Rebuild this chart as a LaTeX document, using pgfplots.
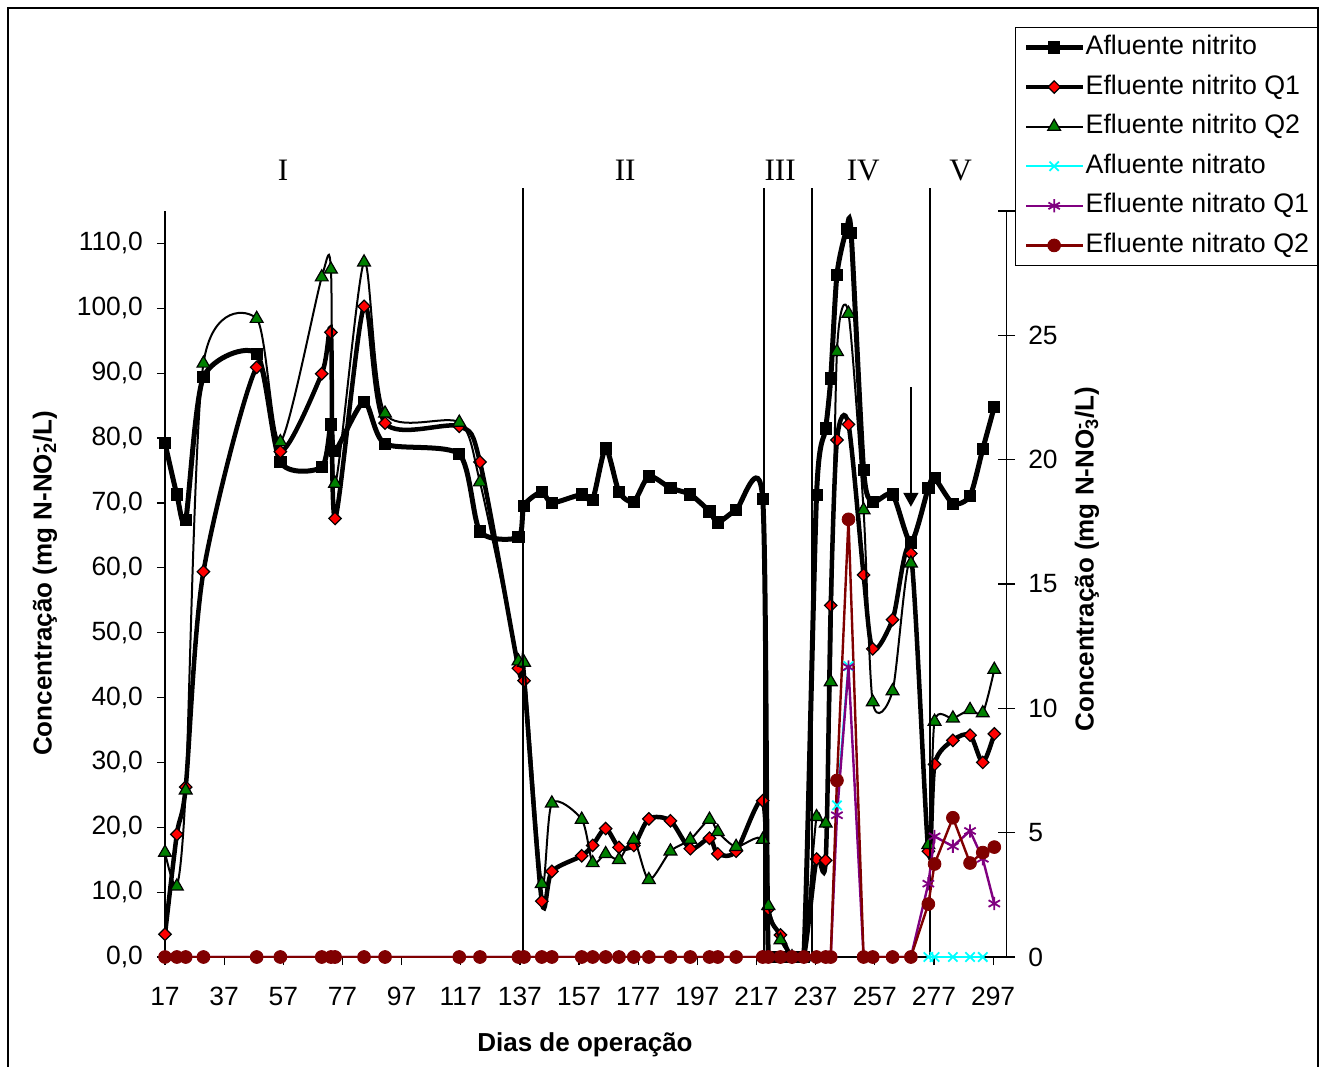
\documentclass[border=0pt]{standalone}
\usepackage{fontspec}
\setmainfont{Liberation Sans}
\newfontfamily\timesf{Liberation Serif}
\usepackage{pgfplots}
\pgfplotsset{compat=1.18}
\usetikzlibrary{arrows.meta}
\definecolor{xgreen}{RGB}{0,128,0}
\definecolor{xpurple}{RGB}{128,0,128}
\definecolor{xdarkred}{RGB}{128,0,0}
\definecolor{xcyan}{RGB}{0,255,255}

\pgfplotsset{
  afstyle/.style={black, line width=2.5pt, smooth, tension=0.42, mark=square*, mark size=2.8pt, mark options={solid, line width=0.4pt, draw=black, fill=black}},
  q1style/.style={black, line width=2.25pt, smooth, tension=0.48, mark=square*, mark size=2.2pt, mark options={solid, rotate=45, line width=0.6pt, draw=black, fill=red}},
  q2style/.style={black, line width=1pt, smooth, tension=0.45, mark=triangle*, mark size=3.7pt, mark options={solid, line width=0.6pt, draw=black, fill=xgreen}},
  n0style/.style={xcyan, line width=1.2pt, mark=x, mark size=3.3pt, mark options={solid, line width=0.9pt}},
  n1style/.style={xpurple, line width=1.2pt, mark=asterisk, mark size=3.3pt, mark options={solid, line width=0.9pt}},
  n2style/.style={xdarkred, line width=1.2pt, mark=*, mark size=3.2pt, mark options={solid, line width=0.4pt, draw=xdarkred, fill=xdarkred}},
  tickfont/.style={font=\fontsize{13.2}{15}\selectfont},
}

\pgfplotstableread{
d v
17 79.2
21 71.3
24 67.4
30 89.4
48 93.0
56 76.3
70 75.5
73.1 82.1
74.5 78.0
84.3 85.6
91.4 79.1
116.5 77.5
123.5 65.6
136.5 64.7
138.4 69.6
144.4 71.7
147.8 70.0
157.9 71.3
161.6 70.5
166 78.4
170.5 71.7
175.5 70.2
180.6 74.1
187.9 72.3
194.6 71.3
201.1 68.7
203.9 67.0
210.1 68.9
219.1 70.6
221 0
225.1 0
229 0
233 0
237.3 71.2
240.4 81.5
242.1 89.2
244.2 105.2
247.5 112.2
249 111.6
253.2 75.1
256.3 70.2
263 71.3
269.2 63.9
275.1 72.3
277.2 73.8
283.4 69.9
289.2 71.1
293.5 78.3
297.4 84.8
}\afnit

\pgfplotstableread{
d v
17 3.5
21 18.9
24 26.2
30 59.4
48 90.9
56 77.9
70 89.9
73.1 96.3
74.5 67.6
84.3 100.3
91.4 82.3
116.5 81.8
123.5 76.3
136.5 44.5
138.4 42.6
144.4 8.6
147.8 13.2
157.9 15.6
161.6 17.2
166 19.8
170.5 16.9
175.5 17.2
180.6 21.3
187.9 21.0
194.6 16.7
201.1 18.3
203.9 15.9
210.1 16.3
219.1 24.1
221 7.4
225.1 3.4
229 0
233 0
237.3 15.1
240.4 14.9
242.1 54.2
244.2 79.7
248.1 82.1
253.2 58.9
256.3 47.5
263 52.0
269.2 62.2
275.1 16.3
277.2 29.7
283.4 33.4
289.2 34.2
293.5 30.0
297.4 34.4
}\qunit

\pgfplotstableread{
d v
17 16.1
21 10.9
24 25.7
30 91.5
48 98.4
56 79.4
70 104.8
73.1 106.0
74.5 73.0
84.3 107.1
91.4 83.8
116.5 82.4
123.5 73.2
136.5 45.6
138.4 45.4
144.4 11.3
147.8 23.7
157.9 21.2
161.6 14.5
166 15.9
170.5 15.0
175.5 18.1
180.6 11.9
187.9 16.3
194.6 18.1
201.1 21.2
203.9 19.3
210.1 17.0
219.1 18.1
221 7.9
225.1 2.6
229 0
233 0
237.3 21.6
240.4 20.6
242.1 42.4
244.2 93.3
248.1 99.2
253.2 68.9
256.3 39.3
263 41.0
269.2 60.7
275.1 17.3
277.2 36.3
283.4 36.8
289.2 38.1
293.5 37.6
297.4 44.3
}\qdnit

\pgfplotstableread{
d a b
17 0 0
21 0 0
24 0 0
30 0 0
48 0 0
56 0 0
70 0 0
73.1 0 0
74.5 0 0
84.3 0 0
91.4 0 0
116.5 0 0
123.5 0 0
136.5 0 0
138.4 0 0
144.4 0 0
147.8 0 0
157.9 0 0
161.6 0 0
166 0 0
170.5 0 0
175.5 0 0
180.6 0 0
187.9 0 0
194.6 0 0
201.1 0 0
203.9 0 0
210.1 0 0
219.1 0 0
221 0 0
225.1 0 0
229 0 0
233 0 0
237.3 0 0
240.4 0 0
242.1 0 0
244.2 5.7 7.1
248.1 11.66 17.6
253.2 0 0
256.3 0 0
263 0 0
269.2 0 0
275.1 2.95 2.13
277.2 4.85 3.74
283.4 4.45 5.6
289.2 5.07 3.78
293.5 3.95 4.2
297.4 2.15 4.42
}\nitrato

\pgfplotstableread{
d v
244.2 6.1
248.1 11.7
}\afnaA

\pgfplotstableread{
d v
275.1 0
277.2 0
283.4 0
289.2 0
293.5 0
}\afnaB

\begin{document}
\begin{tikzpicture}
\useasboundingbox (0,0) rectangle (662.5pt,533pt);
\draw[line width=0.75pt, black] (4pt,-5pt) -- (4pt,529pt) -- (659pt,529pt) -- (659pt,-5pt);

\begin{axis}[
  at={(82.5pt,54.5pt)}, anchor=south west,
  width=420.85pt, height=373pt, scale only axis,
  xmin=17, xmax=301.6, ymin=0, ymax=115,
  axis x line*=bottom, axis y line*=left,
  axis line style={line width=0.6pt},
  xtick={17,37,...,297}, ytick={0,10,...,110},
  tick align=outside, major tick length=4pt,
  tick style={line width=0.6pt, black},
  tick label style={tickfont},
  /pgf/number format/assume math mode=true,
  yticklabel style={/pgf/number format/.cd, fixed, fixed zerofill, precision=1, use comma, /tikz/.cd, xshift=-3.5pt},
  xticklabel style={/pgf/number format/.cd, fixed, precision=0, /tikz/.cd, yshift=-7.5pt},
  xlabel={\bfseries Dias de operação},
  xlabel style={font=\fontsize{13}{15}\selectfont, at={(axis description cs:0.499,-0.1175)}, anchor=center},
  ylabel={\bfseries Concentração (mg N-NO\rlap{\textsuperscript{-}}\textsubscript{2}/L)},
  ylabel style={font=\fontsize{13}{15}\selectfont, at={(axis description cs:-0.1426,0.5007)}, anchor=center},
  clip mode=individual,
]
\addplot[afstyle] table[x=d,y=v] {\afnit};
\addplot[q1style] table[x=d,y=v] {\qunit};
\addplot[q2style] table[x=d,y=v] {\qdnit};

\draw[line width=1pt] (axis cs:138.0,0) -- (axis cs:138.0,118.5);
\draw[line width=1pt] (axis cs:219.4,0) -- (axis cs:219.4,118.5);
\draw[line width=1pt] (axis cs:235.7,0) -- (axis cs:235.7,118.5);
\draw[line width=1pt] (axis cs:275.5,0) -- (axis cs:275.5,118.5);
\draw[line width=0.9pt, -{Triangle[width=7.5pt,length=7pt]}] (axis cs:269.2,87.8) -- (axis cs:269.2,69.4);
\node[font=\timesf\fontsize{15.6}{18}\selectfont] at (axis cs:56.9,121.3) {I};
\node[font=\timesf\fontsize{15.6}{18}\selectfont] at (axis cs:172.6,121.3) {II};
\node[font=\timesf\fontsize{15.6}{18}\selectfont] at (axis cs:225.0,121.3) {III};
\node[font=\timesf\fontsize{15.6}{18}\selectfont] at (axis cs:253.1,121.3) {IV};
\node[font=\timesf\fontsize{15.6}{18}\selectfont] at (axis cs:286.0,121.3) {V};
\end{axis}

\begin{axis}[
  at={(82.5pt,54.5pt)}, anchor=south west,
  width=420.85pt, height=373pt, scale only axis,
  xmin=17, xmax=301.6, ymin=0, ymax=30,
  axis x line=none, axis y line*=right,
  axis line style={line width=0.6pt},
  ytick={0,5,...,30},
  tick align=center, major tick length=8.5pt,
  tick style={line width=0.6pt, black},
  tick label style={tickfont},
  yticklabel style={xshift=3pt},
  /pgf/number format/assume math mode=true,
  ylabel={\bfseries Concentração (mg N-NO\rlap{\textsuperscript{-}}\textsubscript{3}/L)},
  ylabel style={font=\fontsize{13}{15}\selectfont, at={(axis description cs:1.0954,0.5335)}, anchor=center},
  legend cell align=left,
  legend image code/.code={\path (0pt,0pt) -- (28.5pt,0pt); \draw[mark repeat=2, mark phase=2, #1] plot coordinates {(0pt,0pt) (14pt,0pt) (28pt,0pt)};},
  legend style={at={(axis description cs:1.0099,1.2466)}, anchor=north west, draw=black, line width=0.6pt, fill=white, inner xsep=4pt, inner ysep=0pt, row sep=0pt, font=\fontsize{13.4}{16}\selectfont, nodes={inner xsep=0pt, inner ysep=3.8pt, text height=9.6pt, text depth=2.6pt}},
]
\addlegendimage{afstyle}
\addlegendentry{Afluente nitrito}
\addlegendimage{q1style}
\addlegendentry{Efluente nitrito Q1}
\addlegendimage{q2style}
\addlegendentry{Efluente nitrito Q2}
\addplot[n0style] table[x=d,y=v] {\afnaA};
\addlegendentry{Afluente nitrato}
\addplot[n0style, forget plot] table[x=d,y=v] {\afnaB};
\addplot[n1style] table[x=d,y=a] {\nitrato};
\addlegendentry{Efluente nitrato Q1}
\addplot[n2style] table[x=d,y=b] {\nitrato};
\addlegendentry{Efluente nitrato Q2}
\end{axis}
\end{tikzpicture}
\end{document}
